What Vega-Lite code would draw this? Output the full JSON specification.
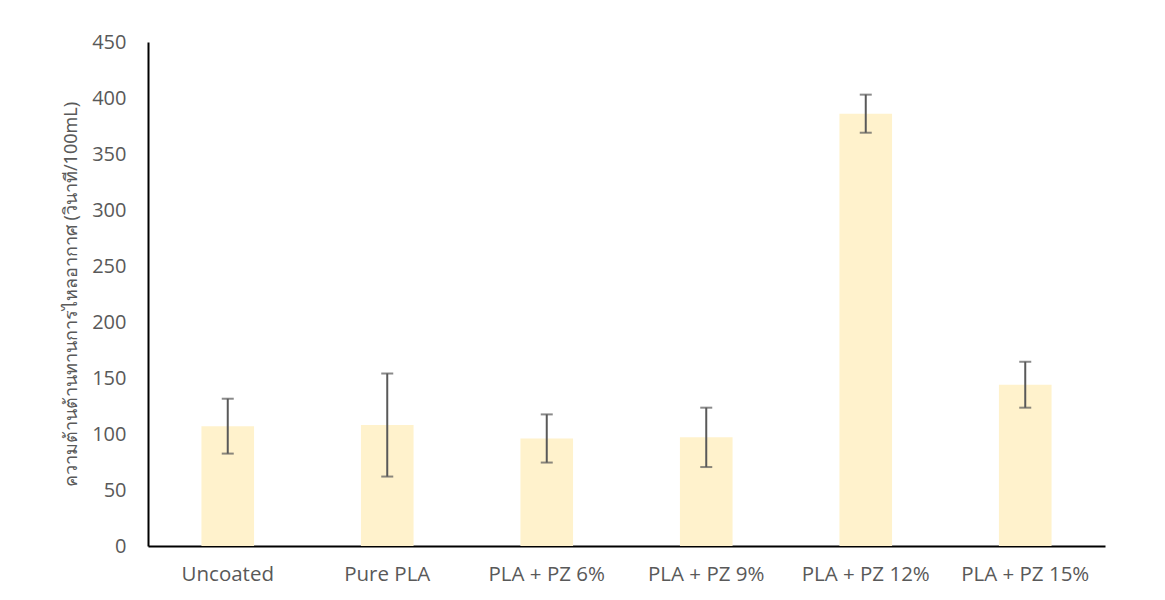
{
  "$schema": "https://vega.github.io/schema/vega-lite/v6.json",
  "width": 957,
  "height": 504,
  "autosize": "none",
  "padding": {"left": 148, "top": 42, "right": 60, "bottom": 54},
  "background": "white",
  "config": {
    "view": {"stroke": null},
    "font": "Open Sans",
    "axis": {"labelColor": "#595959", "labelFont": "Open Sans", "ticks": false, "grid": false, "domainColor": "#000000", "domainWidth": 2},
    "axisX": {"labelPadding": 18, "labelFontSize": 20.5},
    "axisY": {"labelPadding": 22, "labelFontSize": 20}
  },
  "data": {
    "values": [
      {"sample": "Uncoated", "mean": 107, "err": 24.5},
      {"sample": "Pure PLA", "mean": 108, "err": 46},
      {"sample": "PLA + PZ 6%", "mean": 96, "err": 21.5},
      {"sample": "PLA + PZ 9%", "mean": 97, "err": 26.5},
      {"sample": "PLA + PZ 12%", "mean": 386, "err": 17},
      {"sample": "PLA + PZ 15%", "mean": 144, "err": 20.5}
    ]
  },
  "encoding": {
    "x": {
      "field": "sample", "type": "nominal", "sort": null,
      "scale": {"paddingInner": 0.67, "paddingOuter": 0.335},
      "axis": {"title": null, "labelAngle": 0}
    }
  },
  "layer": [
    {
      "mark": {"type": "bar", "color": "#FFF2CC"},
      "encoding": {
        "y": {
          "field": "mean", "type": "quantitative",
          "scale": {"domain": [0, 450]},
          "title": "ความต้านต้านทานการไหลอากาศ (วินาที/100mL)",
          "axis": {"values": [0,50,100,150,200,250,300,350,400,450], "titleFontSize": 18, "titleFontWeight": "normal", "titleColor": "#595959", "titleFont": "Noto Sans", "titlePadding": 11}
        }
      }
    },
    {
      "mark": {"type": "errorbar", "ticks": {"size": 12, "color": "#595959", "thickness": 2}, "rule": {"color": "#595959", "strokeWidth": 2}},
      "encoding": {
        "y": {"field": "mean", "type": "quantitative", "title": "ความต้านต้านทานการไหลอากาศ (วินาที/100mL)"},
        "yError": {"field": "err"}
      }
    }
  ]
}
